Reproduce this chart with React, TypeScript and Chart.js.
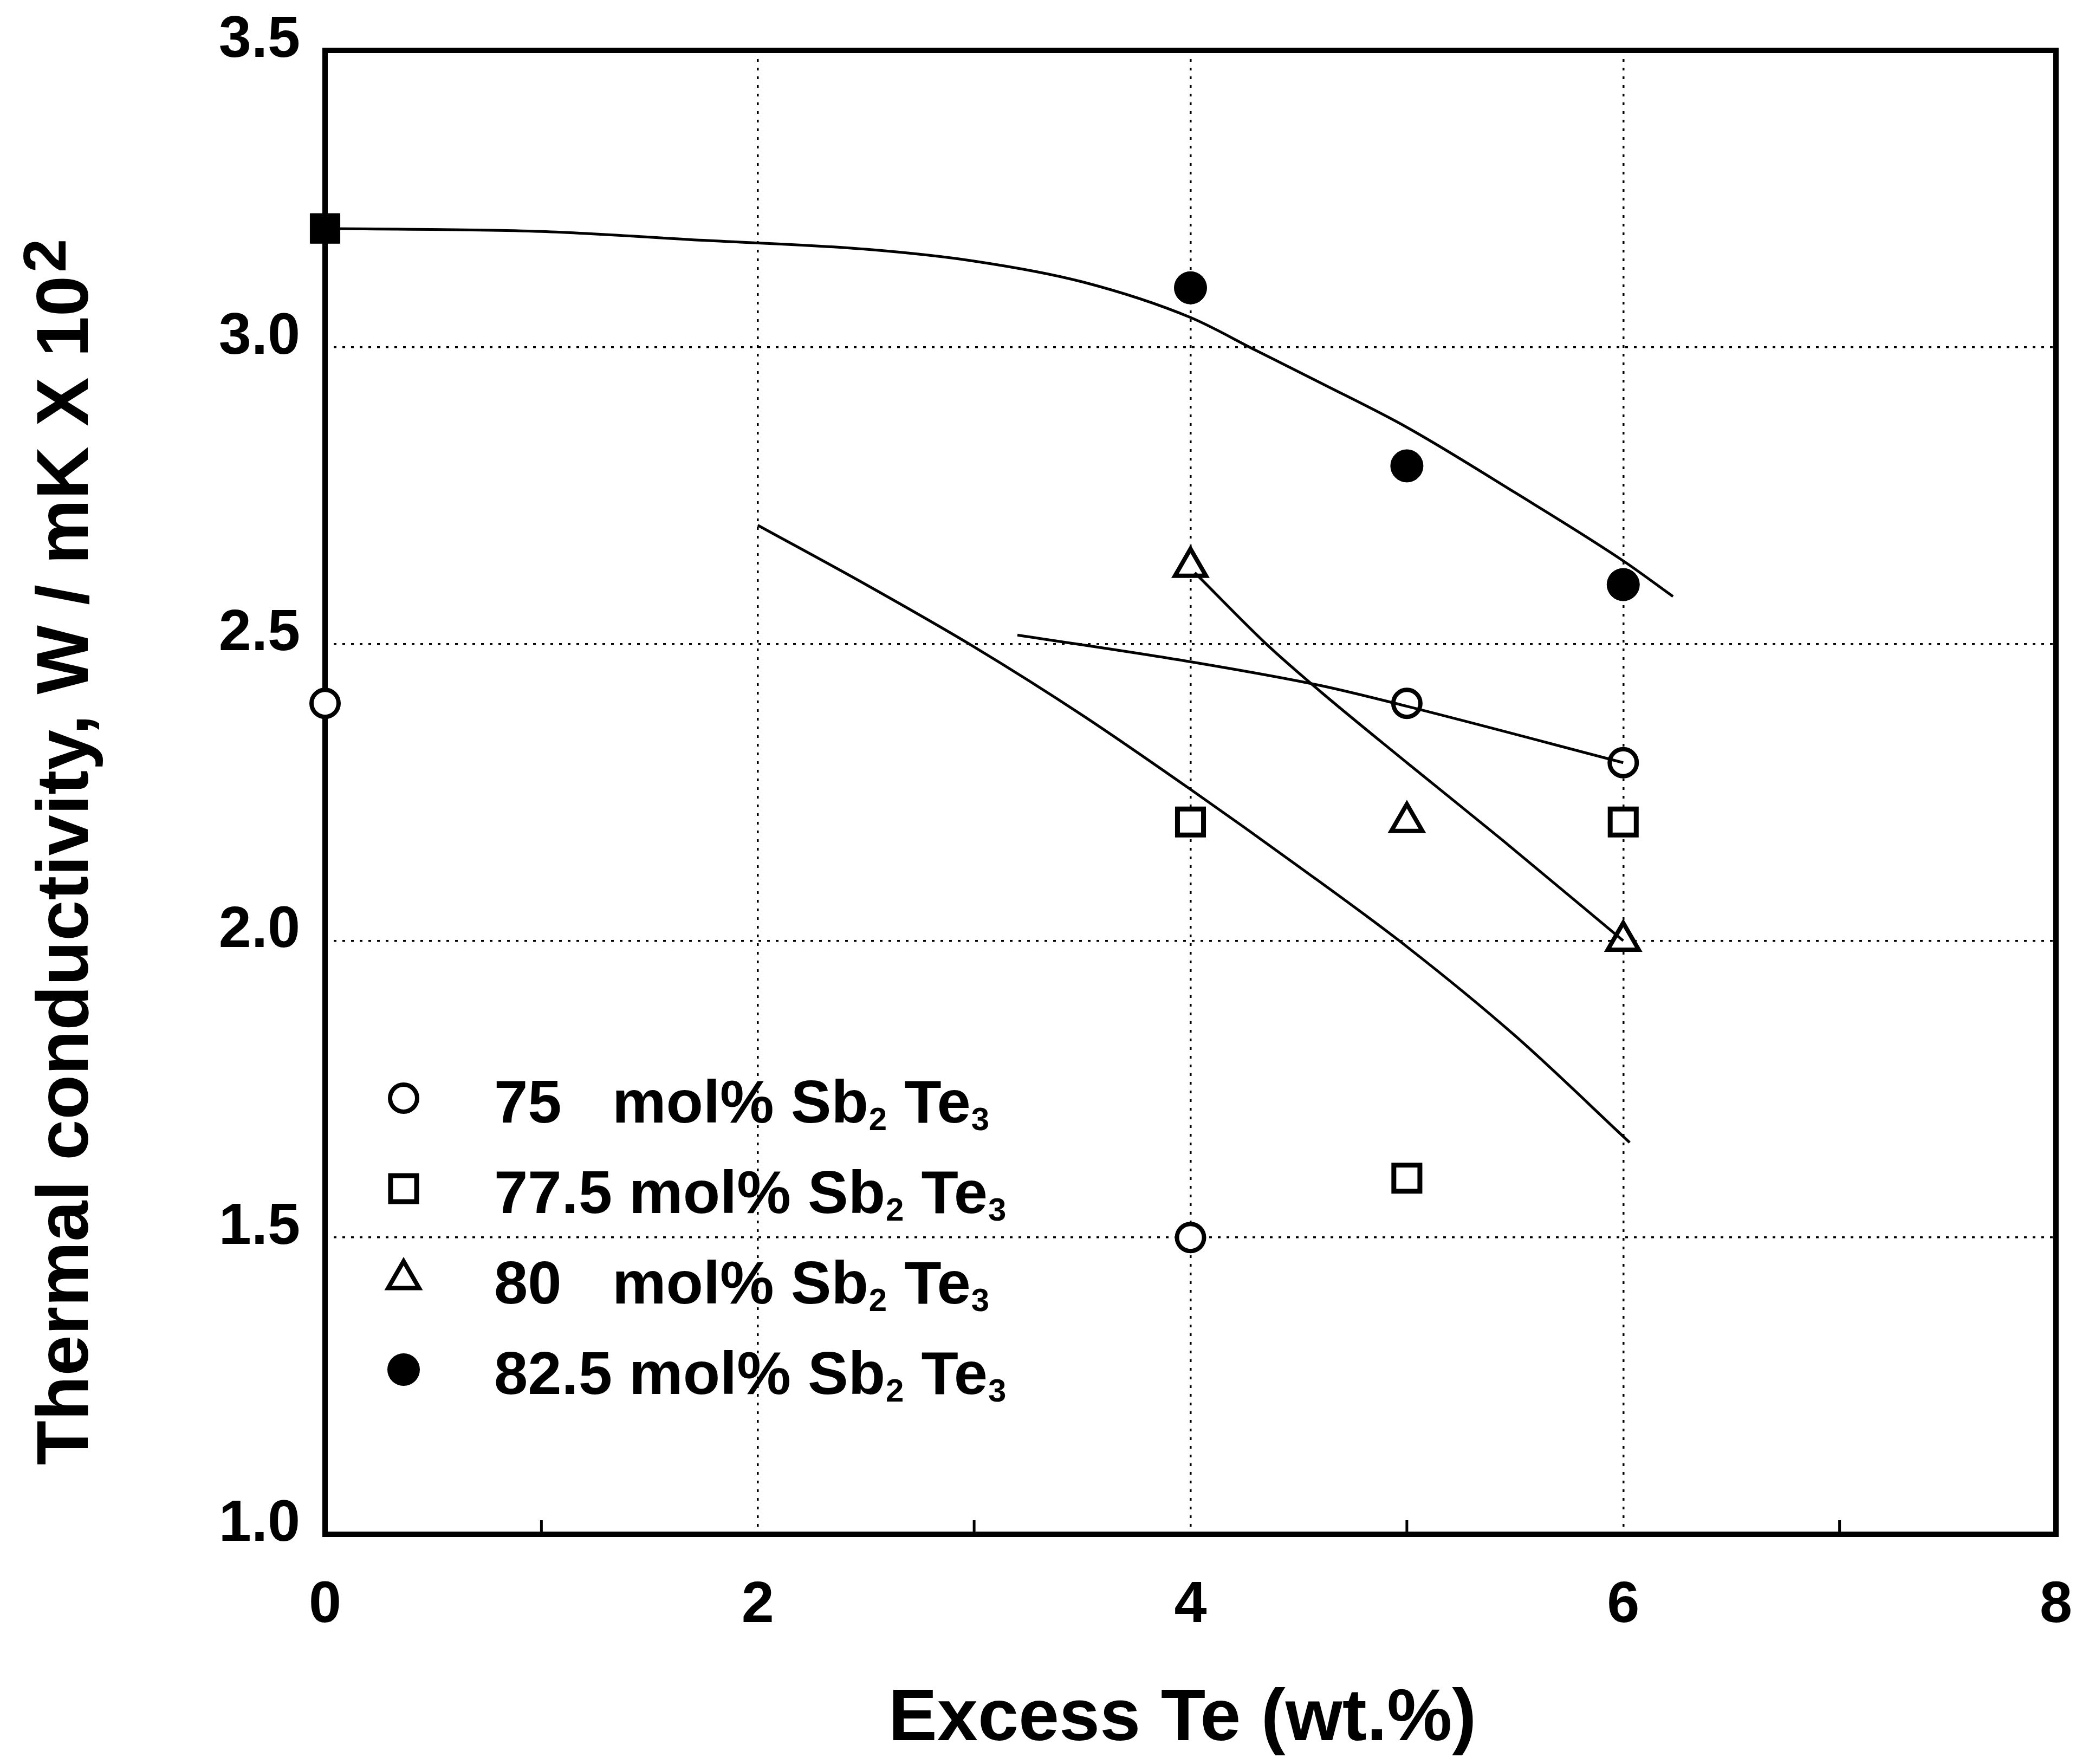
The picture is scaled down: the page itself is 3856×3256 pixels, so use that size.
import React, { useEffect, useRef } from 'react';
import { Chart, registerables } from 'chart.js';

Chart.register(...registerables);

// ---------- data ----------
const X_TITLE = 'Excess Te (wt.%)';
const Y_TITLE_MAIN = 'Thermal conductivity, W / mK X 10';
const Y_TITLE_SUP = '2';

const X_MIN = 0;
const X_MAX = 8;
const X_STEP = 2;
const X_MINOR_TICKS = [1, 3, 5, 7];
const Y_MIN = 1.0;
const Y_MAX = 3.5;
const Y_STEP = 0.5;

const LEGEND_NUMBERS = ['75', '77.5', '80', '82.5'];
const SERIES_LABELS = [
  '75 mol% Sb\u2082Te\u2083',
  '77.5 mol% Sb\u2082Te\u2083',
  '80 mol% Sb\u2082Te\u2083',
  '82.5 mol% Sb\u2082Te\u2083',
];

// 75 mol% (open circles)
const x75 = [0, 4, 5, 6];
const y75 = [2.4, 1.5, 2.4, 2.3];
// 77.5 mol% (open squares)
const x775 = [4, 5, 6];
const y775 = [2.2, 1.6, 2.2];
// 80 mol% (open triangles)
const x80 = [4, 5, 6];
const y80 = [2.63, 2.2, 2.0];
// 82.5 mol% (filled circles; the x = 0 point is a filled square)
const x825 = [4, 5, 6, 0];
const y825 = [3.1, 2.8, 2.6, 3.2];
const style825 = ['circle', 'circle', 'circle', 'rect'];

// hand-drawn fit curves
const fit75X = [3.2, 4, 4.6, 5, 6];
const fit75Y = [2.515, 2.47, 2.43, 2.395, 2.3];
const fit775X = [2, 2.5, 3, 3.5, 4, 4.5, 5, 5.5, 6.03];
const fit775Y = [2.7, 2.6, 2.495, 2.38, 2.255, 2.125, 1.99, 1.84, 1.66];
const fit80X = [4.02, 4.35, 4.6, 5, 5.44, 6];
const fit80Y = [2.62, 2.5, 2.42, 2.3, 2.17, 2.0];
const fit825X = [0, 1, 1.75, 2.5, 3, 3.5, 4, 4.3, 4.6, 5, 5.5, 6, 6.23];
const fit825Y = [3.2, 3.195, 3.18, 3.165, 3.145, 3.11, 3.05, 2.995, 2.94, 2.865, 2.755, 2.64, 2.58];

// ---------- helpers ----------
const FONT = '"Liberation Sans", Arial, Helvetica, sans-serif';
const pts = (xs: number[], ys: number[]) => xs.map((x, i) => ({ x, y: ys[i] }));

const R_CIRCLE = 25;
const R_RECT = 34;
const R_TRI = 33;
const R_FILLED = 30;
const R_FILLED_RECT = 39;

function drawMarker(ctx: CanvasRenderingContext2D, kind: string, x: number, y: number) {
  ctx.save();
  ctx.strokeStyle = '#000';
  ctx.fillStyle = '#fff';
  ctx.beginPath();
  if (kind === 'circle') {
    ctx.lineWidth = 8;
    ctx.arc(x, y, R_CIRCLE, 0, Math.PI * 2);
    ctx.fill();
    ctx.stroke();
  } else if (kind === 'rect') {
    ctx.lineWidth = 9;
    const s = R_RECT * Math.SQRT1_2;
    ctx.rect(x - s, y - s, 2 * s, 2 * s);
    ctx.fill();
    ctx.stroke();
  } else if (kind === 'triangle') {
    ctx.lineWidth = 8;
    let rad = 0;
    ctx.moveTo(x + Math.sin(rad) * R_TRI, y - Math.cos(rad) * R_TRI);
    rad += (2 * Math.PI) / 3;
    ctx.lineTo(x + Math.sin(rad) * R_TRI, y - Math.cos(rad) * R_TRI);
    rad += (2 * Math.PI) / 3;
    ctx.lineTo(x + Math.sin(rad) * R_TRI, y - Math.cos(rad) * R_TRI);
    ctx.closePath();
    ctx.fill();
    ctx.stroke();
  } else {
    ctx.fillStyle = '#000';
    ctx.arc(x, y, R_FILLED, 0, Math.PI * 2);
    ctx.fill();
  }
  ctx.restore();
}

const LEGEND_KINDS = ['circle', 'rect', 'triangle', 'filled'];

const decorPlugin = {
  id: 'decor',
  beforeDatasetsDraw(chart: any) {
    const { ctx, chartArea: a, scales } = chart;
    ctx.save();
    ctx.strokeStyle = '#000';
    ctx.lineWidth = 5;
    for (const v of X_MINOR_TICKS) {
      const px = scales.x.getPixelForValue(v);
      ctx.beginPath();
      ctx.moveTo(px, a.bottom);
      ctx.lineTo(px, a.bottom - 26);
      ctx.stroke();
    }
    ctx.lineWidth = 10;
    ctx.strokeRect(a.left, a.top, a.right - a.left, a.bottom - a.top);
    ctx.restore();
  },
  afterDraw(chart: any) {
    const { ctx, chartArea: a } = chart;
    ctx.save();
    ctx.fillStyle = '#000';
    // x axis title
    ctx.font = `bold 135px ${FONT}`;
    ctx.textAlign = 'center';
    ctx.textBaseline = 'alphabetic';
    ctx.fillText(X_TITLE, (a.left + a.right) / 2 - 15, a.bottom + 380);

    // y axis title with superscript
    ctx.save();
    ctx.translate(a.left - 438, (a.top + a.bottom) / 2 + 110);
    ctx.rotate(-Math.PI / 2);
    ctx.textAlign = 'left';
    ctx.font = `bold 135px ${FONT}`;
    const wMain = ctx.measureText(Y_TITLE_MAIN).width;
    ctx.font = `bold 112px ${FONT}`;
    const wSup = ctx.measureText(Y_TITLE_SUP).width;
    const start = -(wMain + wSup + 6) / 2;
    ctx.font = `bold 135px ${FONT}`;
    ctx.fillText(Y_TITLE_MAIN, start, 0);
    ctx.font = `bold 112px ${FONT}`;
    ctx.fillText(Y_TITLE_SUP, start + wMain + 6, -41);
    ctx.restore();

    // legend (inside plot, lower left)
    ctx.textAlign = 'left';
    const rowGap = 167;
    LEGEND_NUMBERS.forEach((num, i) => {
      const base = a.top + 1979 + i * rowGap;
      drawMarker(ctx, LEGEND_KINDS[i], a.left + 145, base - 45);
      let x = a.left + 312;
      ctx.font = `bold 112px ${FONT}`;
      const head = num + (num.length < 3 ? '   ' : ' ') + 'mol% Sb';
      ctx.fillText(head, x, base);
      x += ctx.measureText(head).width;
      ctx.font = `bold 60px ${FONT}`;
      ctx.fillText('2', x + 1, base + 14);
      x += ctx.measureText('2').width + 2;
      ctx.font = `bold 112px ${FONT}`;
      ctx.fillText(' Te', x, base);
      x += ctx.measureText(' Te').width;
      ctx.font = `bold 60px ${FONT}`;
      ctx.fillText('3', x + 1, base + 14);
    });
    ctx.restore();
  },
};

export default function App() {
  const ref = useRef<HTMLCanvasElement | null>(null);

  useEffect(() => {
    document.body.style.margin = '0';
    const canvas = ref.current;
    if (!canvas) return;

    const markerBase = {
      borderColor: '#000',
      backgroundColor: '#fff',
      showLine: false,
      clip: false as any,
      order: 1,
    };
    const fitBase = {
      borderColor: '#000',
      backgroundColor: '#000',
      borderWidth: 5,
      pointRadius: 0,
      showLine: true,
      cubicInterpolationMode: 'monotone' as const,
      fill: false,
      order: 0,
    };

    const chart = new Chart(canvas, {
      type: 'scatter',
      data: {
        datasets: [
          { ...markerBase, label: SERIES_LABELS[0], data: pts(x75, y75), pointStyle: 'circle', pointRadius: R_CIRCLE, borderWidth: 8 },
          { ...markerBase, label: SERIES_LABELS[1], data: pts(x775, y775), pointStyle: 'rect', pointRadius: R_RECT, borderWidth: 9 },
          { ...markerBase, label: SERIES_LABELS[2], data: pts(x80, y80), pointStyle: 'triangle', pointRadius: R_TRI, borderWidth: 8 },
          {
            ...markerBase,
            label: SERIES_LABELS[3],
            data: pts(x825, y825),
            pointStyle: style825 as any,
            pointRadius: style825.map((s) => (s === 'rect' ? R_FILLED_RECT : R_FILLED)),
            backgroundColor: '#000',
            borderWidth: 1,
          },
          { ...fitBase, label: 'fit 75', data: pts(fit75X, fit75Y) },
          { ...fitBase, label: 'fit 77.5', data: pts(fit775X, fit775Y) },
          { ...fitBase, label: 'fit 80', data: pts(fit80X, fit80Y) },
          { ...fitBase, label: 'fit 82.5', data: pts(fit825X, fit825Y) },
        ] as any,
      },
      options: {
        responsive: false,
        animation: false,
        devicePixelRatio: 1,
        events: [],
        layout: { padding: { top: 93, right: 61, bottom: 0, left: 0 } },
        plugins: {
          legend: { display: false },
          tooltip: { enabled: false },
          title: { display: false },
        },
        scales: {
          x: {
            type: 'linear',
            min: X_MIN,
            max: X_MAX,
            afterFit: (s: any) => {
              s.height = 424;
              s.paddingLeft = 0;
              s.paddingRight = 0;
            },
            ticks: {
              stepSize: X_STEP,
              padding: 67,
              color: '#000',
              font: { family: FONT, size: 108, weight: 'bold' },
              callback: (v: any) => String(v),
            },
            grid: {
              drawTicks: false,
              lineWidth: 3.5,
              color: (c: any) =>
                c.tick && (c.tick.value === X_MIN || c.tick.value === X_MAX) ? 'rgba(0,0,0,0)' : '#000',
              borderDash: [5, 11],
            } as any,
            border: { display: false, dash: [5, 11] },
          },
          y: {
            type: 'linear',
            min: Y_MIN,
            max: Y_MAX,
            afterFit: (s: any) => {
              s.width = 600;
              s.paddingTop = 0;
              s.paddingBottom = 0;
            },
            ticks: {
              stepSize: Y_STEP,
              padding: 46,
              labelOffset: -18,
              color: '#000',
              font: { family: FONT, size: 108, weight: 'bold' },
              callback: (v: any) => Number(v).toFixed(1),
            },
            grid: {
              drawTicks: false,
              lineWidth: 3.5,
              color: (c: any) =>
                c.tick && (Math.abs(c.tick.value - Y_MIN) < 1e-6 || Math.abs(c.tick.value - Y_MAX) < 1e-6)
                  ? 'rgba(0,0,0,0)'
                  : '#000',
              borderDash: [5, 11],
            } as any,
            border: { display: false, dash: [5, 11] },
          },
        },
      } as any,
      plugins: [decorPlugin],
    });

    return () => chart.destroy();
  }, []);

  return (
    <div style={{ width: 3856, height: 3256, background: '#fff' }}>
      <canvas ref={ref} width={3856} height={3256} style={{ display: 'block' }} />
    </div>
  );
}
